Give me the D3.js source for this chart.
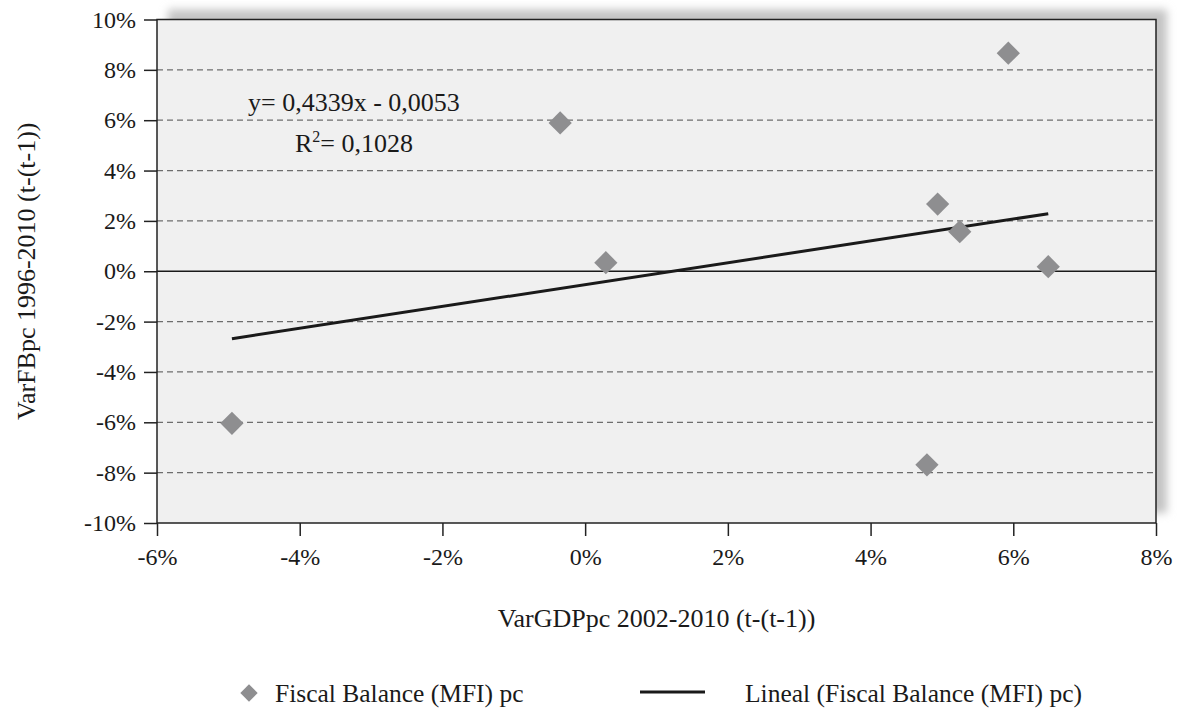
<!DOCTYPE html>
<html>
<head>
<meta charset="utf-8">
<script src="https://cdn.jsdelivr.net/npm/d3@7"></script>
<style>
  html, body { margin: 0; padding: 0; background: #fff; }
  svg { display: block; }
  text { font-family: "Liberation Serif", "Times New Roman", serif; fill: #1a1a1a; }
</style>
</head>
<body>
<svg id="chart" width="1182" height="713"></svg>
<script>
// Per-country changes: GDP per capita (x) vs fiscal balance per capita (y), as fractions
const gdpChange = [-0.0495, -0.0035, 0.0029, 0.0494, 0.0525, 0.0649, 0.0479, 0.0593];
const fbChange  = [-0.0604, 0.0589, 0.0034, 0.0267, 0.0157, 0.0018, -0.0769, 0.0866];

// Linear fit reported on the chart
const slope = 0.4339;
const intercept = -0.0053;
const rSquared = "0,1028";

const xTicks = [-0.06, -0.04, -0.02, 0, 0.02, 0.04, 0.06, 0.08];
const yTicks = [-0.10, -0.08, -0.06, -0.04, -0.02, 0, 0.02, 0.04, 0.06, 0.08, 0.10];

const xTitle = "VarGDPpc 2002-2010 (t-(t-1))";
const yTitle = "VarFBpc 1996-2010 (t-(t-1))";
const seriesName = "Fiscal Balance (MFI) pc";
const trendName = "Lineal (Fiscal Balance (MFI) pc)";

const svg = d3.select("#chart");
const plot = { left: 157, top: 19.5, right: 1156, bottom: 523 };

const x = d3.scaleLinear().domain([-0.06, 0.08]).range([plot.left, plot.right]);
const y = d3.scaleLinear().domain([-0.10, 0.10]).range([plot.bottom, plot.top]);

const pct = d => Math.round(d * 100) + "%";

// Soft drop shadow behind the plot area
const defs = svg.append("defs");
defs.append("filter").attr("id", "shadow")
  .attr("x", "-5%").attr("y", "-5%").attr("width", "110%").attr("height", "110%")
  .append("feGaussianBlur").attr("stdDeviation", 4);

svg.append("rect")
  .attr("x", plot.left + 11).attr("y", plot.top - 10)
  .attr("width", plot.right - plot.left).attr("height", plot.bottom - plot.top)
  .attr("fill", "#c4c4c4")
  .attr("filter", "url(#shadow)");

// Plot background
svg.append("rect")
  .attr("x", plot.left).attr("y", plot.top)
  .attr("width", plot.right - plot.left).attr("height", plot.bottom - plot.top)
  .attr("fill", "#f0f0f0");

// Dashed horizontal gridlines
svg.append("g")
  .selectAll("line")
  .data(yTicks.filter(t => t !== 0 && t !== 0.10 && t !== -0.10))
  .join("line")
  .attr("x1", plot.left).attr("x2", plot.right)
  .attr("y1", d => y(d)).attr("y2", d => y(d))
  .attr("stroke", "#6e6e6e")
  .attr("stroke-width", 1.3)
  .attr("stroke-dasharray", "6,4");

// Zero line
svg.append("line")
  .attr("x1", plot.left).attr("x2", plot.right)
  .attr("y1", y(0)).attr("y2", y(0))
  .attr("stroke", "#1a1a1a").attr("stroke-width", 1.3);

// Plot frame
svg.append("rect")
  .attr("x", plot.left).attr("y", plot.top)
  .attr("width", plot.right - plot.left).attr("height", plot.bottom - plot.top)
  .attr("fill", "none").attr("stroke", "#222").attr("stroke-width", 1.5);

// Axes
const xAxis = svg.append("g")
  .attr("transform", `translate(0,${plot.bottom})`)
  .call(d3.axisBottom(x).tickValues(xTicks).tickFormat(pct).tickSize(13).tickPadding(12));
const yAxis = svg.append("g")
  .attr("transform", `translate(${plot.left},0)`)
  .call(d3.axisLeft(y).tickValues(yTicks).tickFormat(pct).tickSize(13).tickPadding(8));

[xAxis, yAxis].forEach(g => {
  g.select(".domain").remove();
  g.selectAll(".tick line").attr("stroke", "#222").attr("stroke-width", 1.5);
  g.selectAll(".tick text")
    .attr("font-family", "Liberation Serif, Times New Roman, serif")
    .attr("font-size", 24).attr("fill", "#1a1a1a");
});

// Trend line across the data range
const xExt = d3.extent(gdpChange);
const trend = xExt.map(v => [v, slope * v + intercept]);
svg.append("path")
  .attr("d", d3.line().x(d => x(d[0])).y(d => y(d[1]))(trend))
  .attr("stroke", "#1a1a1a").attr("stroke-width", 3).attr("fill", "none");

// Data points as diamonds
const diamond = d3.symbol().type(d3.symbolSquare).size(270);
svg.append("g")
  .selectAll("path")
  .data(gdpChange.map((v, i) => [v, fbChange[i]]))
  .join("path")
  .attr("d", diamond)
  .attr("transform", d => `translate(${x(d[0])},${y(d[1])}) rotate(45)`)
  .attr("fill", "#8e8e90");

// Regression annotation
const fmt = v => v.toFixed(4).replace(".", ",");
svg.append("text")
  .attr("x", 248).attr("y", 111)
  .attr("font-size", 26)
  .text(`y= ${fmt(slope)}x - ${fmt(Math.abs(intercept))}`);
const r2 = svg.append("text").attr("x", 295).attr("y", 152).attr("font-size", 26);
r2.append("tspan").text("R");
r2.append("tspan").attr("font-size", 16).attr("dy", -10).text("2");
r2.append("tspan").attr("dy", 10).text("= " + rSquared);

// Axis titles
svg.append("text")
  .attr("x", (plot.left + plot.right) / 2).attr("y", 627)
  .attr("text-anchor", "middle").attr("font-size", 26)
  .text(xTitle);
svg.append("text")
  .attr("transform", `translate(35,${(plot.top + plot.bottom) / 2}) rotate(-90)`)
  .attr("text-anchor", "middle").attr("font-size", 26)
  .text(yTitle);

// Legend
const legend = svg.append("g");
legend.append("path")
  .attr("d", d3.symbol().type(d3.symbolSquare).size(150))
  .attr("transform", "translate(249,693) rotate(45)")
  .attr("fill", "#8e8e90");
legend.append("text").attr("x", 275).attr("y", 702).attr("font-size", 25.5).text(seriesName);
legend.append("line")
  .attr("x1", 640).attr("x2", 705).attr("y1", 692).attr("y2", 692)
  .attr("stroke", "#1a1a1a").attr("stroke-width", 3);
legend.append("text").attr("x", 745).attr("y", 702).attr("font-size", 25.5).text(trendName);
</script>
</body>
</html>
